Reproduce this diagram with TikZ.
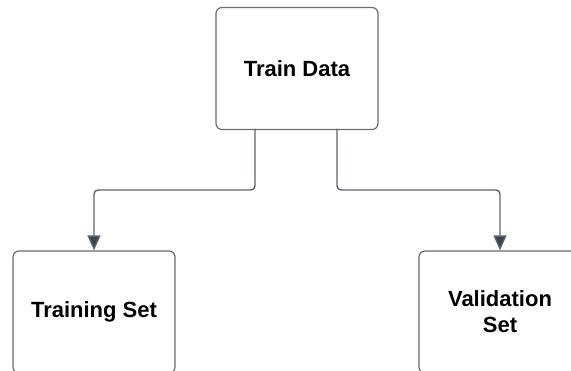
\documentclass[tikz,border=0pt]{standalone}
\usepackage{fontspec}
\setmainfont{Liberation Sans}
\usetikzlibrary{arrows.meta}
\definecolor{boxline}{HTML}{6A6D72}
\definecolor{conn}{HTML}{5C636E}
\definecolor{tipc}{HTML}{3C4350}
\tikzset{
  box/.style={draw=boxline, line width=1.2pt, rounded corners=6pt, fill=white,
    minimum width=162pt, minimum height=122pt, inner sep=0pt,
    align=center, font=\fontsize{22}{26}\selectfont\bfseries},
  conn/.style={draw=conn, line width=1.4pt, rounded corners=4pt,
    -{Triangle[width=13pt,length=15pt,fill=tipc]}}
}
\begin{document}
\begin{tikzpicture}[x=1pt,y=-1pt]
\useasboundingbox (0,0) rectangle (571,371);
\node[box] (top) at (297,68.5) {Train Data};
\node[box] (train) at (94,312) {Training Set};
\node[box] (val) at (500,312) {Validation\\Set};
\coordinate (tl) at (255,129);
\coordinate (tr) at (337,129);
\draw[conn] (tl) |- (94,190) -- (train.north);
\draw[conn] (tr) |- (500,190) -- (val.north);
\end{tikzpicture}
\end{document}
